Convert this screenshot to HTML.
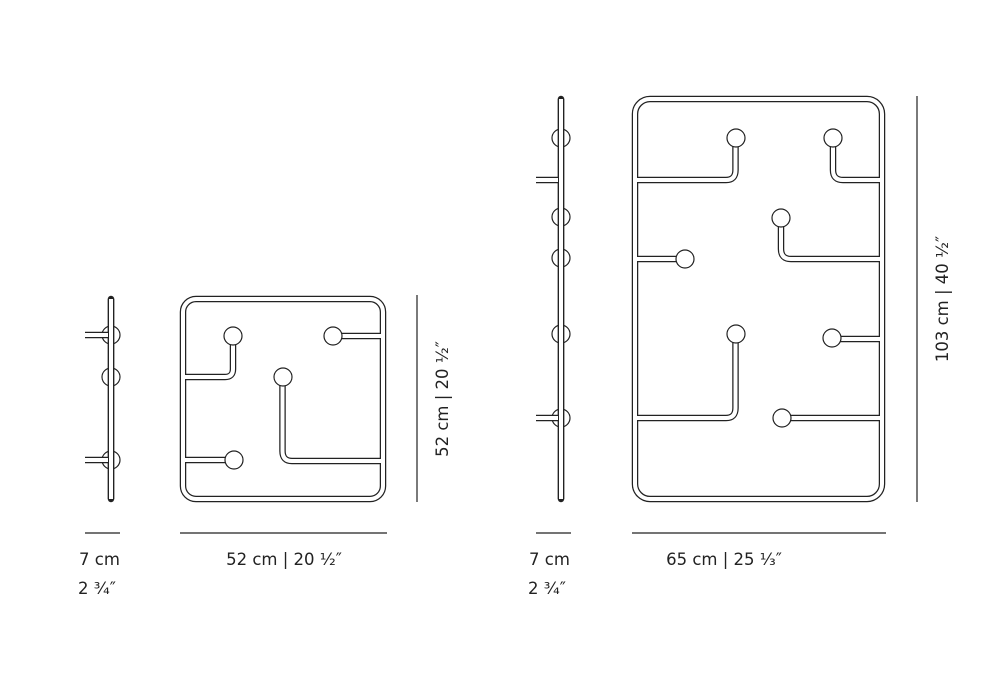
<!DOCTYPE html>
<html><head><meta charset="utf-8"><style>
html,body{margin:0;padding:0;background:#fff}
svg{display:block}
text{font-family:"DejaVu Sans","Liberation Sans",sans-serif;font-size:16.5px;fill:#222}
.o{fill:none;stroke:#222;stroke-width:6.5;stroke-linejoin:round;stroke-linecap:butt}
.i{fill:none;stroke:#fff;stroke-width:4;stroke-linejoin:round;stroke-linecap:butt}
.c{fill:#fff;stroke:#222;stroke-width:1.2}
.d{stroke:#222;stroke-width:1.2}
</style></head><body>
<svg width="1000" height="700" viewBox="0 0 1000 700">
<defs>
<g id="small">
<rect x="183" y="299" width="200" height="200" rx="13"/>
<path d="M183 377 H225 Q233 377 233 369 V340"/>
<path d="M337 336 H383"/>
<path d="M282.5 380 V451 Q282.5 461 292 461 H383"/>
<path d="M183 460 H228"/>
<path d="M111 299 V499"/>
<path d="M85 335 H111 M85 460 H111"/>
</g>
<g id="large">
<rect x="635" y="99" width="247" height="400" rx="15"/>
<path d="M635 180 H726 Q735.5 180 735.5 170 V142"/>
<path d="M833 142 V170 Q833 180 843 180 H882"/>
<path d="M635 259 H680"/>
<path d="M781 222 V249 Q781 259 791 259 H882"/>
<path d="M836 339 H882"/>
<path d="M735.5 338 V408 Q735.5 418 726 418 H635"/>
<path d="M786 418 H882"/>
<path d="M561 99 V499"/>
<path d="M536 180 H561 M536 418 H561"/>
</g>
</defs>
<use href="#small" class="o"/><use href="#small" class="i"/>
<use href="#large" class="o"/><use href="#large" class="i"/>
<g class="c">
<circle cx="233" cy="336" r="9"/><circle cx="333" cy="336" r="9"/>
<circle cx="283" cy="377" r="9"/><circle cx="234" cy="460" r="9"/>
<circle cx="736" cy="138" r="9"/><circle cx="833" cy="138" r="9"/>
<circle cx="781" cy="218" r="9"/><circle cx="685" cy="259" r="9"/>
<circle cx="736" cy="334" r="9"/><circle cx="832" cy="338" r="9"/>
<circle cx="782" cy="418" r="9"/>
</g>
<g fill="none" stroke="#222" stroke-width="1.2">
<circle cx="111" cy="335" r="9"/>
<circle cx="111" cy="377" r="9"/>
<circle cx="111" cy="460" r="9"/>
<circle cx="561" cy="138" r="9"/><circle cx="561" cy="217" r="9"/>
<circle cx="561" cy="258" r="9"/><circle cx="561" cy="334" r="9"/>
<circle cx="561" cy="418" r="9"/>
</g>
<g>
<path d="M111 299 V499" class="o" style="stroke-linecap:round"/><path d="M111 299 V499" class="i"/>
<path d="M561 99 V499" class="o" style="stroke-linecap:round"/><path d="M561 99 V499" class="i"/>
<path d="M85 335 H108 M85 460 H108 M536 180 H558 M536 418 H558" stroke="#fff" stroke-width="4"/>
</g>
<g class="d">
<line x1="85" y1="533" x2="120" y2="533"/>
<line x1="180" y1="533" x2="387" y2="533"/>
<line x1="417" y1="295" x2="417" y2="502"/>
<line x1="536" y1="533" x2="571" y2="533"/>
<line x1="632" y1="533" x2="886" y2="533"/>
<line x1="917" y1="96" x2="917" y2="502"/>
</g>
<text x="79" y="565">7 cm</text>
<text x="78" y="594">2 ³⁄₄″</text>
<text x="284" y="565" text-anchor="middle">52 cm | 20 ¹⁄₂″</text>
<text x="529" y="565">7 cm</text>
<text x="528" y="594">2 ³⁄₄″</text>
<text x="724" y="565" text-anchor="middle">65 cm | 25 ¹⁄₃″</text>
<text transform="translate(448 399) rotate(-90)" text-anchor="middle">52 cm | 20 ¹⁄₂″</text>
<text transform="translate(948 299) rotate(-90)" text-anchor="middle">103 cm | 40 ¹⁄₂″</text>
</svg>
</body></html>
